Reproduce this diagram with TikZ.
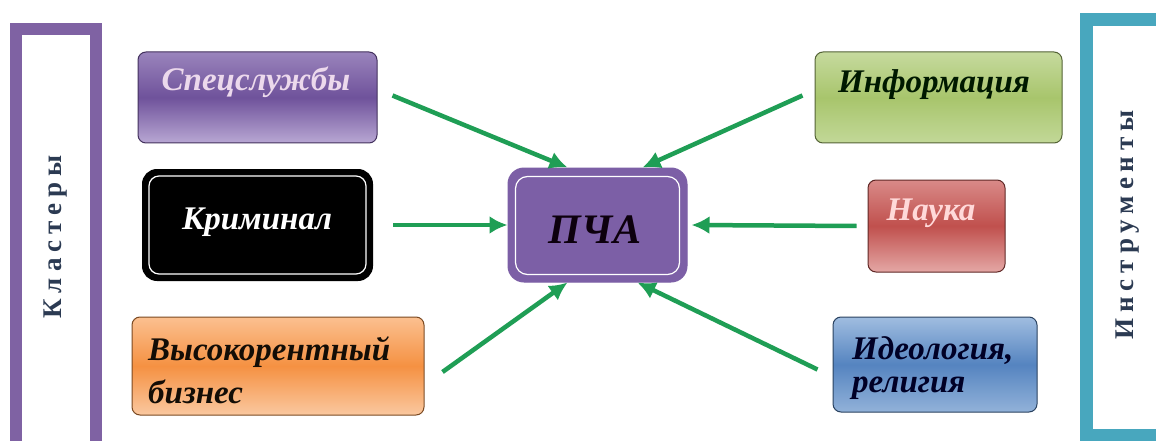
\documentclass[tikz,border=0pt]{standalone}
\usepackage{fontspec}
\setmainfont{Liberation Serif}
\newfontfamily\spacedfont[LetterSpace=22]{Liberation Serif}
\usetikzlibrary{arrows.meta}

\definecolor{frameviolet}{HTML}{7F62A3}
\definecolor{frameteal}{HTML}{48A7BE}
\definecolor{sideink}{HTML}{2B3A52}
\definecolor{linkgreen}{HTML}{1F9E55}
\definecolor{pcaviolet}{HTML}{7C5FA6}
\definecolor{specTop}{HTML}{9A84BC}
\definecolor{specMid}{HTML}{6F529B}
\definecolor{specBot}{HTML}{B8A7D3}
\definecolor{bizTop}{HTML}{FBC090}
\definecolor{bizMid}{HTML}{F59142}
\definecolor{bizBot}{HTML}{FAC8A0}
\definecolor{infoTop}{HTML}{C6DA9E}
\definecolor{infoMid}{HTML}{A8C56C}
\definecolor{infoBot}{HTML}{C2D898}
\definecolor{naukaTop}{HTML}{D98A88}
\definecolor{naukaMid}{HTML}{C0504D}
\definecolor{naukaBot}{HTML}{E4A7A5}
\definecolor{ideoTop}{HTML}{A0BDE0}
\definecolor{ideoMid}{HTML}{5584C0}
\definecolor{ideoBot}{HTML}{92B2D9}

\begin{document}
\begin{tikzpicture}[x=1pt, y=-1pt, >={Latex[length=18pt,width=18pt]},
	box/.style={rounded corners=8pt, inner sep=0pt, line width=1pt},
	txt/.style={font=\bfseries\itshape\fontsize{33}{36}\selectfont, inner sep=0pt},
	link/.style={->, draw=linkgreen, line width=4.5pt},
	side/.style={rotate=90, inner sep=0pt, text=sideink, font=\spacedfont\bfseries\fontsize{27}{30}\selectfont}]
	\useasboundingbox (0,0) rectangle (1156,441);
	\clip (0,0) rectangle (1156,441);
	\fill[white] (0,0) rectangle (1156,441);
	\draw[frameviolet, line width=12pt] (16,29) rectangle (96,470);
	\draw[frameteal, line width=13pt] (1086.5,20) rectangle (1180,435);
	\node[side] (clusters) at (56,237) {Кластеры};
	\node[side] (tools) at (1128,225) {Инструменты};

	\node[box, draw=specMid!60!black, top color=specTop, bottom color=specBot, middle color=specMid, minimum width=239pt, minimum height=91pt] (spec) at (257.5,97.5) {};
	\node[box, fill=black, draw=black, line width=2pt, rounded corners=14pt, minimum width=229pt, minimum height=110pt] (krim) at (257.5,225) {};
	\draw[white, line width=1.2pt, rounded corners=10pt] ([shift={(7pt,-7pt)}]krim.north west) rectangle ([shift={(-7pt,7pt)}]krim.south east);
	\node[box, draw=bizMid!50!black, top color=bizTop, bottom color=bizBot, middle color=bizMid, minimum width=292pt, minimum height=98pt] (biz) at (278,366) {};

	\node[box, fill=pcaviolet, draw=pcaviolet, rounded corners=16pt, minimum width=179pt, minimum height=114pt] (pca) at (597.5,225) {};
	\draw[white, line width=1.2pt, rounded corners=12pt] ([shift={(8pt,-9pt)}]pca.north west) rectangle ([shift={(-8pt,8pt)}]pca.south east);

	\node[box, draw=infoMid!50!black, top color=infoTop, bottom color=infoBot, middle color=infoMid, minimum width=247pt, minimum height=91pt] (info) at (938.5,97.5) {};
	\node[box, draw=naukaMid!50!black, top color=naukaTop, bottom color=naukaBot, middle color=naukaMid, minimum width=137pt, minimum height=92pt] (nauka) at (936.5,226) {};
	\node[box, draw=ideoMid!50!black, top color=ideoTop, bottom color=ideoBot, middle color=ideoMid, minimum width=204pt, minimum height=95pt] (ideo) at (935,364.5) {};

	\node[txt, text=violet!15!white] (spec-t) at (256,82) {Спецслужбы};
	\node[txt, text=white] (krim-t) at (257,222) {Криминал};
	\node[txt, text=black!90!brown, align=left, anchor=west, font=\bfseries\itshape\fontsize{33}{43}\selectfont] (biz-t) at (148,370) {Высокорентный\\бизнес};
	\node[txt, text=black!90!violet, font=\bfseries\itshape\fontsize{42}{46}\selectfont] (pca-t) at (595,230) {ПЧА};
	\node[txt, text=black!90!green] (info-t) at (934,85) {Информация};
	\node[txt, text=red!15!white] (nauka-t) at (931,213) {Наука};
	\node[txt, text=black!85!blue, align=left, anchor=west, font=\bfseries\itshape\fontsize{33}{33}\selectfont] (ideo-t) at (852,368) {Идеология,\\религия};

	\draw[link] ([shift={(15pt,2pt)}]spec.east) -- ([xshift=-30pt]pca.north);
	\draw[link] ([xshift=20pt]krim.east) -- (pca.west);
	\draw[link] ([shift={(18pt,-6pt)}]biz.east) -- ([xshift=-30pt]pca.south);
	\draw[link] ([shift={(-12pt,2pt)}]info.west) -- ([xshift=45pt]pca.north);
	\draw[link] ([xshift=-11pt]nauka.west) -- ([xshift=4pt]pca.east);
	\draw[link] ([shift={(-15pt,-5pt)}]ideo.west) -- ([xshift=40pt]pca.south);
\end{tikzpicture}
\end{document}
